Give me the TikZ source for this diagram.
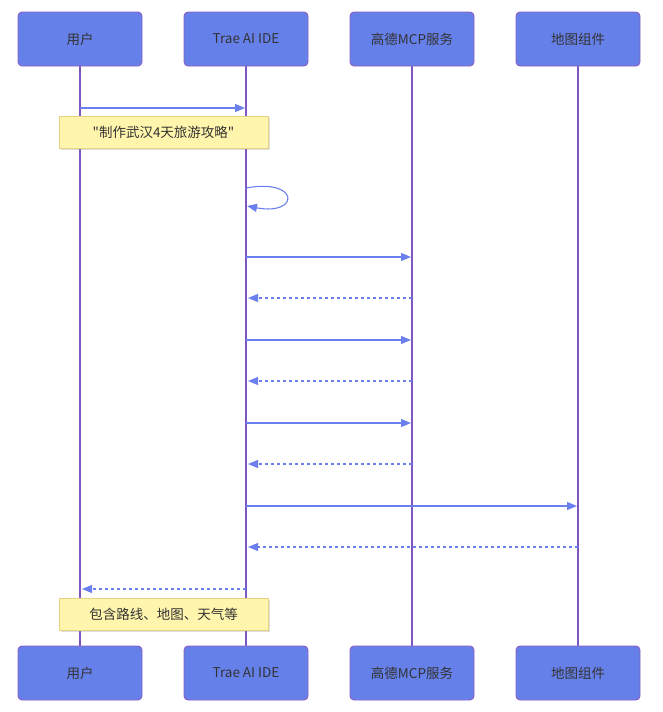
\documentclass[tikz,border=0pt]{standalone}
\usepackage{fontspec}
\newfontfamily\cjk{Noto Sans CJK SC}
\usetikzlibrary{arrows.meta,shadows}
\definecolor{boxfill}{HTML}{6680EA}
\definecolor{boxdraw}{HTML}{8A5FC0}
\definecolor{life}{HTML}{7E57C2}
\definecolor{msg}{HTML}{6B80EE}
\definecolor{notefill}{HTML}{FFF5AD}
\definecolor{notedraw}{HTML}{E6D280}
\definecolor{txt}{HTML}{333333}
\tikzset{
  actor/.style={draw=boxdraw, fill=boxfill, rounded corners=4pt, line width=0.9pt,
    minimum width=124pt, minimum height=54pt, inner sep=0pt, text=txt,
    font=\cjk\fontsize{13.5pt}{16pt}\selectfont},
  lifeline/.style={draw=life, line width=1.8pt},
  note/.style={draw=notedraw, fill=notefill, line width=0.8pt, minimum width=209pt,
    minimum height=32pt, inner sep=0pt, text=txt, font=\cjk\fontsize{13.5pt}{16pt}\selectfont,
    drop shadow={shadow xshift=2pt, shadow yshift=-2pt, opacity=0.25, fill=black!50}},
  req/.style={draw=msg, line width=1.1pt, -{Triangle[length=10pt,width=8pt]}},
  resp/.style={draw=msg, line width=1.1pt, dash pattern=on 3pt off 3pt, -{Triangle[length=10pt,width=8pt]}},
}
\begin{document}
\begin{tikzpicture}[x=1pt,y=-1pt]
\useasboundingbox (0,0) rectangle (662,712);
% lifelines
\draw[lifeline] (80,66) -- (80,646);
\draw[lifeline] (246,66) -- (246,646);
\draw[lifeline] (412,66) -- (412,646);
\draw[lifeline] (578,66) -- (578,646);
% actors top
\node[actor] (u1) at (80,39) {用户};
\node[actor] (t1) at (246,39) {Trae AI IDE};
\node[actor] (g1) at (412,39) {高德MCP服务};
\node[actor] (m1) at (578,39) {地图组件};
% actors bottom
\node[actor] (u2) at (80,673) {用户};
\node[actor] (t2) at (246,673) {Trae AI IDE};
\node[actor] (g2) at (412,673) {高德MCP服务};
\node[actor] (m2) at (578,673) {地图组件};
% coordinates on lifelines
\foreach \y in {108,188,206,257,298,340,381,423,464,506,547,589}{
  \coordinate (u\y) at (80,\y);
  \coordinate (t\y) at (246,\y);
  \coordinate (g\y) at (412,\y);
  \coordinate (m\y) at (578,\y);
}
% messages
\draw[req] (u108) -- ([xshift=-1pt]t108);
\node[note] (n1) at (163.5,132) {"制作武汉4天旅游攻略"};
\draw[req] (t188) .. controls (300,178) and (300,216) .. ([xshift=1pt]t206);
\draw[req] (t257) -- ([xshift=-1pt]g257);
\draw[resp] (g298) -- ([xshift=2pt]t298);
\draw[req] (t340) -- ([xshift=-1pt]g340);
\draw[resp] (g381) -- ([xshift=2pt]t381);
\draw[req] (t423) -- ([xshift=-1pt]g423);
\draw[resp] (g464) -- ([xshift=2pt]t464);
\draw[req] (t506) -- ([xshift=-1pt]m506);
\draw[resp] (m547) -- ([xshift=2pt]t547);
\draw[resp] (t589) -- ([xshift=2pt]u589);
\node[note] (n2) at (163.5,614) {包含路线、地图、天气等};
\end{tikzpicture}
\end{document}
